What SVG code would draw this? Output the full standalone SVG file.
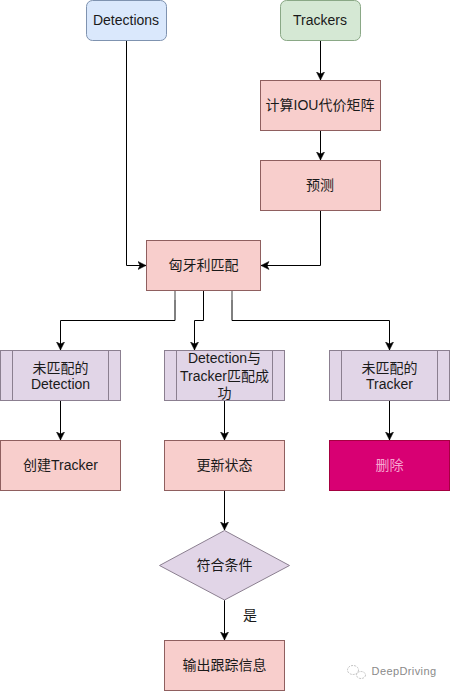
<svg xmlns="http://www.w3.org/2000/svg" width="450" height="691" viewBox="0 0 450 691">
<style>
text{font-family:"Liberation Sans","Noto Sans CJK SC",sans-serif;font-size:14px;fill:#1a1a1a;text-anchor:middle}
.r{fill:#f8cecc;stroke:#8f5f5f;stroke-width:1}
.p{fill:#e1d5e7;stroke:#8b7f90;stroke-width:1}
.c{fill:none;stroke:#000;stroke-width:1}
.s{fill:none;stroke:#808080;stroke-width:1.5}
.w{fill:none;stroke:#c4c4c4;stroke-width:1;stroke-dasharray:2 1}
</style>
<defs><marker id="a" viewBox="0 0 9 9" refX="8.5" refY="4.5" markerWidth="9" markerHeight="9" markerUnits="userSpaceOnUse" orient="auto"><path d="M0.5 0.5L8.5 4.5L0.5 8.5L2.5 4.5Z" fill="#000" stroke="#000" stroke-width="0.5"/></marker></defs>
<rect width="450" height="691" fill="#fff"/>
<g id="connectors">
<path class="c" marker-end="url(#a)" d="M126.5 40V265.5H146"/>
<path class="c" marker-end="url(#a)" d="M320.5 40V80"/>
<path class="c" marker-end="url(#a)" d="M320.5 130V160"/>
<path class="c" marker-end="url(#a)" d="M320.5 210V265.5H261"/>
<path class="c" marker-end="url(#a)" d="M175 300V320.5H60.5V350"/>
<path class="c" marker-end="url(#a)" d="M203.5 290V320.5H194.5V350"/>
<path class="c" marker-end="url(#a)" d="M232 300V320.5H389.5V350"/>
<path class="s" d="M175 291V320M232 291V320"/>
<path class="c" marker-end="url(#a)" d="M60.5 400V440"/>
<path class="c" marker-end="url(#a)" d="M224.5 400V440"/>
<path class="c" marker-end="url(#a)" d="M389.5 400V440"/>
<path class="c" marker-end="url(#a)" d="M224.5 490V530"/>
<path class="c" marker-end="url(#a)" d="M224.5 600V640"/>
</g>
<g id="detections"><rect x="86.5" y="0.5" width="80" height="40" rx="6" fill="#dae8fc" stroke="#7f93b0"/><text x="126" y="25">Detections</text></g>
<g id="trackers"><rect x="280.5" y="0.5" width="80" height="40" rx="6" fill="#d5e8d4" stroke="#8aa886"/><text x="320" y="25">Trackers</text></g>
<g id="iou"><rect class="r" x="260.5" y="80.5" width="120" height="50"/><text x="320" y="110">计算IOU代价矩阵</text></g>
<g id="predict"><rect class="r" x="260.5" y="160.5" width="120" height="50"/><text x="320" y="190">预测</text></g>
<g id="hungarian"><rect class="r" x="146.5" y="240.5" width="114" height="50"/><text x="203.5" y="270">匈牙利匹配</text></g>
<g id="unmatched-detection"><rect class="p" x="0.5" y="350.5" width="120" height="50"/><path class="p" d="M12.5 350.5V400.5M108.5 350.5V400.5"/><text x="60.5" y="373">未匹配的</text><text x="60.5" y="389">Detection</text></g>
<g id="matched"><rect class="p" x="164.5" y="350.5" width="120" height="50"/><path class="p" d="M176.5 350.5V400.5M272.5 350.5V400.5"/><text x="224.5" y="363">Detection与</text><text x="224.5" y="381">Tracker匹配成</text><text x="224.5" y="398">功</text></g>
<g id="unmatched-tracker"><rect class="p" x="329.5" y="350.5" width="120" height="50"/><path class="p" d="M341.5 350.5V400.5M437.5 350.5V400.5"/><text x="389.5" y="373">未匹配的</text><text x="389.5" y="389">Tracker</text></g>
<g id="create"><rect class="r" x="0.5" y="440.5" width="120" height="50"/><text x="60.5" y="470">创建Tracker</text></g>
<g id="update"><rect class="r" x="164.5" y="440.5" width="120" height="50"/><text x="224.5" y="470">更新状态</text></g>
<g id="delete"><rect x="329.5" y="440.5" width="120" height="50" fill="#d80073" stroke="#a50040"/><text x="389.5" y="470" style="fill:#f6a6d0">删除</text></g>
<g id="condition"><path class="p" d="M224.5 530.5L289.5 565.5L224.5 600L159.5 565.5Z"/><text x="224.5" y="570">符合条件</text></g>
<text x="250" y="620">是</text>
<g id="output"><rect class="r" x="164.5" y="640.5" width="120" height="50"/><text x="224.5" y="670">输出跟踪信息</text></g>
<ellipse class="w" cx="353" cy="670" rx="5.5" ry="4.5"/><ellipse class="w" cx="361" cy="675" rx="4.5" ry="3.5"/>
<text x="404" y="675" style="font-size:11px;fill:#8a8a8a;letter-spacing:.4px">DeepDriving</text>
</svg>
